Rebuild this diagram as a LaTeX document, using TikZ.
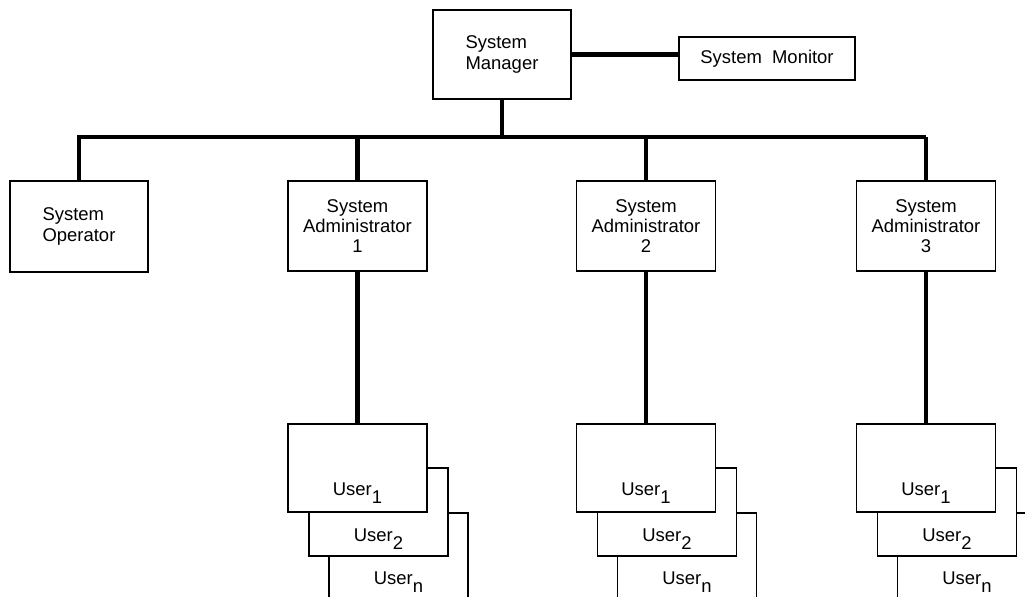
\documentclass[tikz,border=0pt]{standalone}
\usepackage{fontspec}
\setmainfont{Liberation Sans}
\usetikzlibrary{positioning}

\begin{document}
\begin{tikzpicture}[
			box/.style={draw,rectangle,line width=.6pt,fill=white,minimum width=2.78cm,minimum height=1.8cm,align=center,font=\fontsize{10.5}{11.5}\selectfont},
			userbox/.style={box,minimum height=1.76cm},
			userlab/.style={anchor=base,inner sep=0pt,font=\fontsize{10.5}{11.5}\selectfont},
			link/.style={line width=2.3pt}]
			\useasboundingbox (0,0) rectangle (20.5,-11.92);
			\clip (0,0) rectangle (20.5,-11.92);

			\node (mgr) [box,minimum width=2.76cm,minimum height=1.78cm,align=left] at (10.04,-1.09) {System\\Manager};
			\node (mon) [box,minimum width=3.52cm,minimum height=.86cm] at (15.34,-1.17) {System\ \ Monitor};
			\node (op) [box,minimum width=2.76cm,minimum height=1.82cm,align=left] at (1.58,-4.53) {System\\Operator};
			\coordinate (bus) at (0,-2.74);

			\draw [link] (mgr.east) -- (mgr.east -| mon.west);
			\draw [link] (mgr.south) -- (mgr.south |- bus);

			\foreach \i/\x in {1/7.15,2/12.92,3/18.52} {
				\node (adm\i) [box] at (\x,-4.52) {System\\Administrator\\\i};
				\draw [link] (adm\i.north) -- (adm\i.north |- bus);

				% stack of users, last one first
				\node (usrn\i) [userbox] at (\x+.82,-11.14) {};
				\node (usrnlab\i) [userlab] at ([yshift=-1.44cm]usrn\i.north) {User\raisebox{-.45em}{n}};
				\node (usrb\i) [userbox] at (\x+.42,-10.24) {};
				\node (usrblab\i) [userlab] at ([yshift=-1.48cm]usrb\i.north) {User\raisebox{-.45em}{2}};
				\node (usra\i) [userbox] at (\x,-9.36) {};
				\node (usralab\i) [userlab] at ([yshift=-1.44cm]usra\i.north) {User\raisebox{-.45em}{1}};

				\draw [link] (adm\i.south) -- (usra\i.north);
			}
			\draw [link] (op.north) -- (op.north |- bus) -- (adm3.north |- bus);
		\end{tikzpicture}
\end{document}
